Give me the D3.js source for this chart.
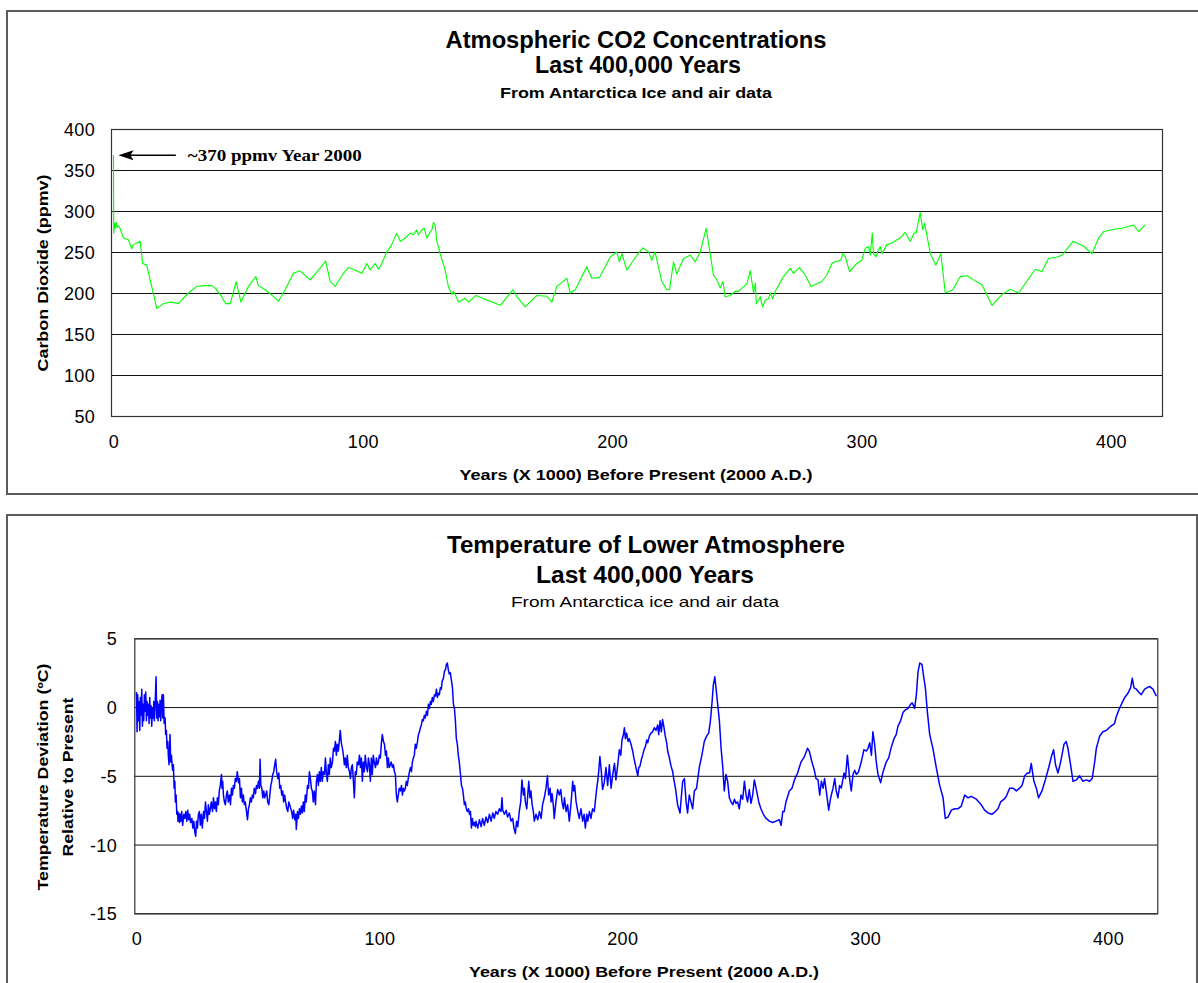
<!DOCTYPE html>
<html>
<head>
<meta charset="utf-8">
<script src="https://cdn.jsdelivr.net/npm/d3@7"></script>
<style>
  body { margin: 0; background: #fff; }
  text { font-family: "Liberation Sans", Arial, sans-serif; fill: #000; }
  text.serif { font-family: "Liberation Serif", "Times New Roman", serif; }
</style>
</head>
<body>
<div id="chart"></div>
<script>
// Vostok CO2: [years x 1000 before present, ppmv]
let co2Points = [
  [0,368],[0.1,273],[0.5,285],[0.8,279],[1.1,286],[1.5,280],[2.0,282],[2.6,279],[4.0,267],[6.0,265],
  [7.3,254],[8.0,259],[10.7,263],[11.7,236],[13.3,234],[17.4,181],[20.0,187],[22.7,189],[26.0,187],
  [30.1,200],[33.4,208],[36.1,209],[39.4,209],[40.8,206],[43.4,195.5],[45.0,187],[46.8,187],[49.2,214],
  [51.1,189],[54.1,208],[57.1,220],[58.1,209],[60.8,204],[64.2,195.5],[66.2,190],[68.8,204],[72.2,224],
  [74.8,227],[78.9,216],[82.2,228],[85.1,239],[86.9,214],[88.9,208],[92.2,224],[94.2,231],[96.2,229],
  [99.6,224],[101.6,236],[102.9,228],[104.9,236],[106.3,229],[107.6,236],[109.6,250],[111.6,259],
  [113.6,273],[115.0,263],[117.0,267],[119.0,273],[120.3,271],[121.6,277],[122.3,271],[123.7,277],
  [124.6,279],[125.7,267],[126.7,273],[127.7,277],[128.3,286],[129.0,283],[129.7,263],[131.0,248],
  [133.0,228],[134.3,208],[135.7,198],[136.4,202],[138.4,189],[141.0,193.5],[142.4,189],[145.4,197],
  [149.7,191.5],[155.1,185],[160.2,204],[161.8,195.5],[165.1,183],[169.8,197],[173.8,196],[175.8,189],
  [177.8,208],[181.1,216],[181.8,218],[183.2,200],[185.2,204],[189.8,232],[191.8,218],[194.9,219],
  [199.2,244],[201.9,250],[202.9,238],[203.9,248],[205.9,228],[209.2,243],[212.3,255],[214.6,250],
  [215.9,240],[217.2,250],[219.9,214],[221.9,204],[223.0,204],[224.6,238],[225.9,223],[228.6,242],
  [231.3,246],[233.3,238],[235.3,250],[237.7,279],[239.3,248],[240.6,222],[242.0,216],[243.3,206],
  [244.4,214],[245.3,195.5],[247.3,197],[249.3,202],[250.7,202],[252.0,206],[254.0,211],[255.4,227],
  [256.7,200],[257.4,212],[257.8,187],[258.7,191.5],[259.4,195.5],[260.3,183],[261.4,191.5],[262.7,193],
  [263.4,200],[264.4,193],[265.4,202],[268.7,220],[271.4,230],[272.7,224],[275.1,231],[277.4,222],
  [279.7,208],[284.1,214],[286.1,222],[288.1,236],[289.4,238],[291.7,240],[292.5,248],[293.5,244],
  [295.2,226],[298.1,236],[300.1,240],[301.5,254.5],[302.8,256.5],[303.5,246],[304.3,273],[304.8,248],
  [305.9,244],[306.4,250],[307.5,256.5],[308.2,248],[310.2,259],[312.2,261],[314.2,265],[315.5,267],
  [317.5,274],[319.5,263],[321.1,273],[321.9,273],[323.5,298],[324.6,277],[325.3,285],[327.6,248],
  [329.8,234],[331.8,248],[333.6,200],[336.6,204],[339.6,220],[342.3,221],[344.9,216],[348.3,210],
  [352.3,185],[356.3,198],[359.6,204.5],[363.0,200],[369.7,229],[372.3,226],[375.0,242],[378.4,244],
  [380.4,246],[384.8,263],[389.1,257],[392.4,248],[395.1,267],[397.1,275],[401.8,278],[404.4,279],
  [409.1,283],[411.1,275],[413.8,283]
];

// Vostok temperature deviation: [years x 1000 before present, deg C]
let tempPoints = [
  [0,1.1],[0.24,-1.8],[0.52,0.9],[0.79,-1.0],[1.07,0.4],[1.34,-1.7],[1.62,0.7],[1.89,-0.6],[2.17,1.3],
  [2.44,-1.4],[2.72,0.2],[2.99,-1.0],[3.26,0.9],[3.54,-0.3],[3.81,1.1],[4.09,-1.0],[4.36,0.4],[4.64,-0.6],
  [4.91,0.2],[5.19,-1.2],[5.46,0.7],[5.73,-0.8],[6.01,0.1],[6.28,-1.4],[6.56,-0.1],[6.83,-0.8],[7.11,0.4],
  [7.38,-1.0],[7.66,0.2],[8.07,2.2],[8.34,-0.8],[8.62,0.4],[8.89,-1.0],[9.17,0.2],[9.44,-0.7],[9.71,0.5],
  [9.99,-1.0],[10.26,0.2],[10.54,0.9],[10.81,-0.8],[11.09,0.9],
  [11.4,-1.2],[11.8,-0.8],[12.0,-2.0],[12.3,-1.7],[12.6,-3.0],[12.9,-2.5],[13.1,-3.5],[13.4,-4.2],[13.7,-2.7],
  [13.8,-2.0],[14.1,-4.0],[14.4,-3.5],[14.7,-4.3],[14.9,-4.6],[15.2,-4.2],[15.5,-5.9],[15.8,-5.4],[16.0,-6.9],
  [16.3,-6.4],[16.6,-7.8],[16.9,-7.6],[17.1,-8.3],[17.4,-7.7],[17.7,-8.4],[17.9,-7.8],[18.2,-8.3],[18.6,-7.6],
  [19.0,-8.6],[19.5,-7.8],[19.9,-8.1],[20.3,-7.6],[20.7,-8.3],[21.1,-7.5],[21.5,-8.2],[21.9,-7.8],[22.3,-8.4],
  [22.8,-8.1],[23.2,-8.8],[23.6,-8.3],[24.0,-9.1],[24.4,-9.4],[24.7,-8.3],[25.1,-8.8],[25.5,-7.8],[25.9,-7.6],
  [26.3,-8.6],[26.7,-7.8],[27.1,-8.8],[27.6,-7.6],[28.0,-8.1],[28.4,-6.9],[28.8,-7.6],[29.2,-8.3],[29.6,-7.1],
  [30.0,-7.8],[30.4,-7.4],[30.8,-6.9],[31.3,-7.6],[31.7,-6.6],[32.1,-7.4],[32.5,-6.9],[32.9,-7.6],[33.3,-6.6],
  [33.7,-7.1],[34.1,-6.1],[34.5,-5.7],[35.0,-4.9],[35.2,-5.9],[35.5,-5.4],[35.8,-6.4],[36.2,-6.9],[36.6,-7.1],
  [37.0,-6.4],[37.4,-6.1],[37.8,-6.9],[38.3,-6.4],[38.7,-7.1],[39.1,-5.9],[39.5,-6.4],[39.9,-5.7],[40.3,-5.9],
  [40.7,-5.2],[41.1,-5.4],[41.5,-4.7],[42.0,-5.5],[42.4,-5.2],[42.8,-6.6],[43.2,-5.9],[43.6,-6.9],[44.0,-6.4],
  [44.4,-7.1],[44.8,-6.9],[45.3,-7.6],[45.7,-8.2],[46.1,-7.4],[46.5,-7.1],[46.9,-6.6],[47.3,-6.9],[47.7,-6.4],
  [48.1,-6.6],[48.5,-5.9],[49.0,-6.3],[49.4,-5.7],[49.8,-5.9],[50.2,-5.4],[50.6,-5.9],[50.9,-3.8],[51.2,-5.7],
  [51.6,-5.9],[52.0,-6.6],[52.4,-6.1],[52.8,-6.6],[53.2,-6.4],[53.6,-6.1],[54.0,-6.9],[54.5,-7.1],[54.9,-6.4],
  [55.3,-5.7],[55.7,-5.4],[56.1,-4.9],[56.5,-4.7],[56.9,-4.2],[57.3,-3.8],[57.7,-4.7],[58.2,-5.2],[58.6,-4.8],
  [59.0,-5.9],[59.4,-5.7],[59.8,-6.4],[60.2,-6.1],[60.6,-6.9],[61.0,-6.4],[61.4,-6.9],[61.9,-7.4],[62.3,-7.6],
  [62.7,-6.9],[63.1,-7.1],[63.5,-7.4],[63.9,-7.6],[64.3,-8.1],[64.7,-7.5],[65.2,-8.2],[65.6,-7.8],[65.8,-8.9],
  [66.3,-7.6],[66.7,-8.1],[67.1,-7.4],[67.5,-7.8],[67.9,-7.2],[68.3,-7.7],[68.7,-6.9],[69.1,-7.6],[69.5,-6.4],
  [69.9,-6.9],[70.4,-5.7],[70.8,-5.9],[71.2,-4.7],[71.6,-5.2],[72.0,-5.9],[72.4,-6.1],[72.8,-6.9],[73.2,-6.1],
  [73.7,-7.1],[74.1,-5.4],[74.5,-4.9],[74.9,-5.7],[75.3,-4.7],[75.7,-5.4],[76.1,-4.4],[76.5,-5.4],[76.9,-4.7],
  [77.4,-4.9],[77.8,-3.7],[78.2,-4.9],[78.6,-5.4],[79.0,-4.2],[79.4,-4.9],[79.8,-3.7],[80.2,-4.4],[80.7,-4.0],
  [81.1,-3.0],[81.5,-3.2],[81.9,-2.5],[82.3,-3.5],[82.7,-2.7],[83.1,-3.2],[83.5,-2.5],[83.9,-1.7],[84.4,-2.7],
  [84.8,-3.0],[85.2,-3.5],[85.6,-4.2],[86.0,-3.7],[86.4,-4.4],[86.8,-3.5],[87.2,-4.4],[87.7,-4.7],[88.1,-5.2],
  [88.5,-4.4],[88.9,-4.2],[89.3,-5.4],[89.7,-6.6],[90.1,-4.7],[90.5,-4.9],[90.9,-4.0],[91.4,-4.2],[91.8,-3.5],
  [92.2,-4.4],[92.6,-3.7],[93.0,-5.4],[93.4,-4.0],[93.8,-4.7],[94.2,-3.5],[94.7,-4.4],[95.1,-4.7],[95.5,-3.7],
  [95.9,-4.2],[96.3,-5.4],[96.7,-3.7],[97.1,-4.9],[97.5,-3.5],[97.9,-4.0],[98.4,-4.4],[98.8,-3.7],[99.2,-4.2],
  [99.6,-4.0],[100.0,-3.5],[100.4,-3.7],[100.8,-2.7],[101.2,-2.0],[101.7,-2.5],[102.1,-2.7],[102.5,-3.5],
  [102.9,-3.2],[103.3,-4.4],[103.7,-3.7],[104.1,-4.4],[104.5,-4.2],[104.9,-4.0],[105.4,-4.4],[105.8,-4.2],
  [106.2,-4.7],[106.6,-4.9],[107.0,-6.4],[107.4,-6.9],[107.8,-6.4],[108.2,-5.9],[108.7,-6.1],[109.1,-5.7],
  [109.5,-6.4],[109.9,-5.9],[110.3,-6.1],[110.7,-5.9],[111.1,-5.4],[111.5,-5.7],[111.9,-5.2],[112.4,-4.7],
  [112.8,-4.4],[113.2,-4.7],[113.6,-4.0],[114.0,-3.7],[114.4,-3.5],[114.8,-2.7],[115.2,-3.0],[115.7,-2.5],
  [116.1,-2.0],[116.5,-1.8],[116.9,-1.5],[117.3,-1.3],[117.7,-0.9],[118.1,-1.0],[118.5,-0.6],[118.9,-0.8],
  [119.4,-0.3],[119.8,-0.6],[120.2,0.2],[120.6,-0.1],[121.0,0.4],[121.4,0.2],[121.8,0.7],[122.2,0.4],
  [122.7,0.9],[123.1,0.8],[123.5,1.3],[123.9,0.7],[124.3,1.0],[124.7,0.9],[125.1,1.4],[125.5,1.3],
  [125.9,1.9],[126.4,2.1],[126.8,2.6],[127.2,2.7],[127.6,3.1],[128.0,3.2],[128.4,2.7],[128.8,2.4],
  [129.2,2.5],[129.7,1.9],[130.1,1.4],[130.5,0.2],[130.9,-0.1],[131.3,-1.0],[131.7,-2.3],[132.1,-2.7],
  [132.5,-3.5],[132.9,-4.0],[133.4,-4.9],[133.8,-5.7],[134.2,-5.9],[134.6,-6.4],[135.0,-7.1],[135.4,-6.9],
  [135.8,-7.4],[136.2,-7.6],[136.7,-7.4],[137.1,-7.8],[137.5,-7.6],[137.9,-8.8],[138.3,-8.1],[138.7,-8.6],
  [139.1,-8.4],[139.5,-8.7],
  [139.8,-8.3],[140.5,-8.8],[141.2,-8.2],[141.9,-8.7],[142.5,-8.1],[143.2,-8.6],[143.9,-8.0],[144.6,-8.4],
  [145.3,-7.8],[146.0,-8.3],[146.7,-7.7],[147.3,-8.1],[148.0,-7.6],[148.7,-7.8],[149.4,-7.4],[150.1,-7.6],
  [150.5,-6.6],[150.8,-7.5],[151.5,-7.8],[152.2,-7.5],[152.8,-8.0],[153.5,-7.7],[154.2,-8.3],[154.9,-8.1],
  [155.4,-8.8],[156.0,-9.2],[156.5,-8.3],[157.0,-8.7],[157.6,-7.6],[158.2,-6.9],[158.7,-5.3],[159.3,-6.4],
  [159.7,-5.9],[160.1,-6.9],[160.7,-7.4],[161.1,-6.4],[161.5,-5.4],[162.0,-6.6],[162.4,-6.1],[162.9,-7.1],
  [163.4,-7.6],[163.8,-8.3],[164.5,-7.8],[165.2,-8.2],[165.9,-7.6],[166.6,-8.1],[167.2,-7.1],[167.9,-6.6],
  [168.6,-5.9],[169.2,-5.0],[169.7,-6.4],[170.3,-5.9],[170.7,-6.9],[171.1,-6.3],[171.6,-7.1],[172.0,-8.1],
  [172.7,-6.9],[173.4,-6.0],[174.1,-6.4],[174.7,-6.0],[175.2,-6.9],[175.8,-7.4],[176.2,-6.6],[176.9,-7.6],
  [177.5,-7.1],[178.2,-8.3],[178.6,-7.6],[179.2,-6.4],[179.6,-5.4],[180.0,-6.1],[180.4,-5.7],[181.0,-6.9],
  [181.7,-7.6],[182.3,-8.1],[183.0,-7.4],[183.7,-8.3],[184.3,-7.8],[184.8,-8.8],[185.4,-7.8],[185.8,-8.3],
  [186.5,-7.6],[187.1,-8.1],[187.8,-7.4],[188.5,-7.6],[188.9,-6.9],[189.5,-5.9],[189.9,-5.4],[190.3,-4.7],
  [190.8,-3.6],[191.4,-4.7],[191.9,-6.0],[192.6,-5.5],[193.3,-4.4],[194.0,-5.7],[194.7,-4.2],[195.4,-5.9],
  [196.1,-4.9],[196.8,-4.1],[197.4,-5.3],[198.1,-4.3],[198.8,-3.1],[199.4,-3.5],[199.9,-2.4],[200.5,-2.0],
  [200.9,-1.5],[201.3,-2.3],[201.8,-1.9],[202.4,-2.5],[202.9,-2.3],[203.6,-2.7],[204.3,-3.2],[204.8,-3.7],
  [205.4,-4.2],[205.9,-4.6],[206.4,-5.0],[206.8,-4.4],[207.3,-4.3],[207.9,-3.8],[208.4,-3.5],[209.0,-3.1],
  [209.5,-2.9],[210.1,-2.4],[210.5,-2.6],[211.2,-2.1],[211.8,-1.9],[212.5,-1.8],[213.2,-1.5],[213.9,-1.7],
  [214.6,-1.3],[215.0,-2.0],[215.6,-1.0],[216.1,-1.8],[216.6,-0.9],[217.2,-1.5],[217.7,-2.1],[218.3,-2.6],
  [218.7,-3.2],[219.4,-3.7],[220.1,-4.3],[220.8,-4.7],[221.0,-5.0],[221.9,-5.9],[222.8,-7.1],[223.8,-7.7],
  [224.3,-6.6],[224.9,-5.4],[225.6,-5.2],[226.3,-6.9],[226.9,-7.7],[227.6,-6.4],[228.3,-6.9],[229.0,-7.4],
  [229.7,-6.1],[230.6,-5.9],[231.7,-4.4],[232.8,-3.5],[233.8,-2.5],[234.8,-2.1],[235.6,-1.9],[236.3,-1.0],
  [237.0,0.4],[237.5,1.6],[238.1,2.2],[238.6,1.4],[239.3,0.2],[240.0,-1.0],[240.7,-3.0],[241.4,-4.4],
  [242.0,-6.1],[242.7,-4.9],[243.4,-5.4],[244.1,-6.6],[244.8,-6.9],[245.5,-7.1],[246.2,-6.7],[246.8,-7.0],
  [247.5,-6.9],[248.2,-7.4],[248.9,-6.4],[249.6,-6.7],[250.3,-5.4],[251.0,-6.4],[251.6,-6.9],[252.3,-6.0],
  [253.0,-7.0],[253.7,-6.4],[254.4,-5.3],[255.1,-5.9],[256.2,-6.9],[257.1,-7.4],[258.1,-7.8],[259.2,-8.1],
  [260.6,-8.3],[261.9,-8.4],[263.3,-8.3],[264.7,-8.2],[265.4,-8.6],[266.1,-7.6],[266.7,-7.6],[267.4,-6.9],
  [268.8,-6.1],[269.9,-5.9],[270.9,-5.3],[272.2,-4.8],[273.6,-4.0],[275.0,-3.6],[276.3,-3.0],[277.0,-3.2],
  [278.1,-4.0],[279.1,-4.6],[279.8,-5.2],
  [280.6,-5.3],[281.3,-6.4],[282.0,-5.4],[282.7,-5.9],[283.3,-5.2],[284.0,-6.1],[285.0,-7.5],[285.8,-6.6],
  [286.8,-5.9],[287.5,-5.2],[288.1,-6.1],[288.8,-6.6],[289.5,-5.7],[290.2,-5.9],[291.3,-4.8],[291.9,-5.2],
  [292.7,-3.5],[293.2,-4.4],[293.6,-5.2],[294.3,-6.1],[295.0,-4.9],[295.7,-4.6],[296.4,-4.9],[297.3,-4.7],
  [298.4,-4.0],[299.5,-3.1],[300.5,-3.2],[301.2,-3.0],[301.9,-2.6],[302.6,-3.5],[303.2,-1.8],[303.9,-2.7],
  [304.6,-4.0],[305.3,-4.9],[306.4,-5.5],[307.4,-4.7],[308.7,-4.0],[309.7,-3.7],[310.8,-2.9],[311.9,-2.3],
  [312.8,-2.0],[313.5,-1.4],[314.6,-1.0],[315.6,-0.4],[316.6,-0.2],[317.7,-0.1],[318.7,0.2],[319.4,0.3],
  [320.4,-0.1],[321.1,0.9],[321.8,2.6],[322.5,3.2],[323.4,3.1],[324.2,2.1],[324.8,1.4],[325.6,-0.3],
  [326.6,-2.0],[327.9,-3.0],[329.3,-4.4],[330.7,-5.7],[332.1,-6.6],[333.0,-8.1],[334.1,-8.0],[335.5,-7.5],
  [336.9,-7.4],[338.2,-7.4],[339.6,-7.2],[341.0,-6.4],[342.4,-6.6],[343.7,-6.5],[345.8,-6.7],[347.8,-7.1],
  [349.2,-7.5],[350.6,-7.7],[352.2,-7.8],[353.6,-7.6],[354.7,-7.4],[355.8,-6.9],[357.2,-6.7],[358.1,-6.5],
  [359.5,-5.9],[360.9,-5.9],[362.3,-6.1],[363.6,-5.9],[364.6,-5.7],[365.7,-5.0],[366.8,-4.8],[367.7,-4.8],
  [368.4,-4.1],[369.5,-5.4],[370.5,-5.9],[371.4,-6.6],[372.8,-6.1],[374.2,-5.3],[375.6,-4.4],[376.7,-3.6],
  [377.6,-3.1],[378.4,-4.2],[379.4,-4.8],[380.5,-4.0],[381.9,-2.7],[382.8,-2.5],[383.5,-3.0],[384.6,-4.2],
  [385.6,-5.4],[387.0,-5.3],[388.3,-5.0],[389.7,-5.4],[391.1,-5.3],[392.4,-5.4],[393.5,-5.2],[394.5,-4.0],
  [395.2,-3.0],[396.6,-2.1],[397.9,-1.8],[399.3,-1.7],[401.1,-1.4],[402.7,-1.2],[403.4,-0.7],[404.5,-0.2],
  [405.5,0.2],[406.9,0.7],[408.2,1.0],[409.3,1.4],[410.0,2.1],[410.7,1.4],[411.7,1.3],[412.6,1.1],
  [413.7,0.9],[415.1,1.3],[417.1,1.5],[418.5,1.3],[419.9,0.8]
];

let xTicks = [0, 100, 200, 300, 400];
let co2Ticks = [50, 100, 150, 200, 250, 300, 350, 400];
let tempTicks = [-15, -10, -5, 0, 5];

// Setting up my svg dimensions
let svgWidth = 1198;
let svgHeight = 983;

let svg = d3.select("#chart")
  .append("svg")
  .attr("width", svgWidth)
  .attr("height", svgHeight);

// centred text, optionally rotated and squeezed to a given length
function addText(str, x, y, size, weight, len, rotate) {
  let t = svg.append("text")
    .attr("x", x)
    .attr("y", y)
    .attr("text-anchor", "middle")
    .attr("font-size", size)
    .attr("font-weight", weight)
    .text(str);
  if (len) t.attr("textLength", len).attr("lengthAdjust", "spacingAndGlyphs");
  if (rotate) t.attr("transform", `rotate(-90, ${x}, ${y})`);
  return t;
}

function drawPanel(p) {
  // outer box
  svg.append("rect")
    .attr("x", p.frame[0]).attr("y", p.frame[1])
    .attr("width", p.frame[2]).attr("height", p.frame[3])
    .attr("fill", "none")
    .attr("stroke", "#5c5c5c")
    .attr("stroke-width", 2);

  let x = d3.scaleLinear().domain(p.xDomain).range([p.left, p.right]);
  let y = d3.scaleLinear().domain(p.yDomain).range([p.bottom, p.top]);

  // gridlines
  let grid = svg.append("g")
    .attr("transform", `translate(${p.left}, 0)`)
    .call(d3.axisLeft(y).tickValues(p.yTicks).tickSize(-(p.right - p.left)).tickFormat(""));
  grid.select(".domain").remove();
  grid.selectAll("line").attr("stroke", "#111");

  // plot frame
  svg.append("rect")
    .attr("x", p.left + 0.5).attr("y", p.top + 0.5)
    .attr("width", p.right - p.left).attr("height", p.bottom - p.top)
    .attr("fill", "none")
    .attr("stroke", "#333")
    .attr("stroke-width", 1.2);

  // y tick labels (plain hyphen for negatives, like the original)
  let yAxis = svg.append("g")
    .attr("transform", `translate(${p.yLabelX}, 0)`)
    .call(d3.axisLeft(y).tickValues(p.yTicks).tickSize(0).tickPadding(0).tickFormat(d => String(d)));
  yAxis.select(".domain").remove();
  yAxis.attr("font-family", null).attr("font-size", 18);
  yAxis.selectAll("text").attr("dy", "0.36em").attr("letter-spacing", "0.3px");

  // x tick labels
  let xAxis = svg.append("g")
    .attr("transform", `translate(0, ${p.xLabelY})`)
    .call(d3.axisBottom(x).tickValues(xTicks).tickSize(0).tickFormat(d => String(d)));
  xAxis.select(".domain").remove();
  xAxis.attr("font-family", null).attr("font-size", 18);
  xAxis.selectAll("text").attr("y", 0).attr("dy", 0).attr("letter-spacing", "0.3px");

  // data line
  let line = d3.line()
    .x(d => x(d[0]))
    .y(d => y(d[1]));

  svg.append("path")
    .datum(p.data)
    .attr("d", line)
    .attr("fill", "none")
    .attr("stroke", p.color)
    .attr("stroke-width", p.lineWidth)
    .attr("stroke-linejoin", "round");

  return { x: x, y: y };
}

// ---- CO2 panel ----
let co2 = drawPanel({
  frame: [7, 11, 1210, 483],
  left: 111, right: 1162, top: 129, bottom: 416,
  xDomain: [-1, 420.5], yDomain: [50, 400],
  yTicks: co2Ticks, yLabelX: 95, xLabelY: 448,
  data: co2Points, color: "#00ff00", lineWidth: 1.1
});

addText("Atmospheric CO2 Concentrations", 636, 48, 23, "bold", 381);
addText("Last 400,000 Years", 638, 73, 23, "bold", 206);
addText("From Antarctica Ice and air data", 636, 98, 14, "bold", 272);
addText("Years (X 1000) Before Present (2000 A.D.)", 636, 480, 14, "bold", 353);
addText("Carbon Dioxide (ppmv)", 48, 273, 15, "bold", 197, true);

// annotation arrow pointing at the year 2000 value
let arrowY = co2.y(368);
svg.append("line")
  .attr("x1", co2.x(25)).attr("x2", co2.x(6))
  .attr("y1", arrowY).attr("y2", arrowY)
  .attr("stroke", "#000").attr("stroke-width", 1.6);
svg.append("path")
  .attr("d", `M${co2.x(2)},${arrowY} l15,-5 l-3,5 l3,5 z`)
  .attr("fill", "#000");
svg.append("text")
  .attr("class", "serif")
  .attr("x", co2.x(29.8))
  .attr("y", arrowY + 5.5)
  .attr("font-size", 17)
  .attr("font-weight", "bold")
  .attr("textLength", 174)
  .attr("lengthAdjust", "spacingAndGlyphs")
  .text("~370 ppmv Year 2000");

// ---- Temperature panel ----
drawPanel({
  frame: [7, 515, 1190, 490],
  left: 134.3, right: 1157.3, top: 638.3, bottom: 913.3,
  xDomain: [-0.9, 420.3], yDomain: [-15, 5],
  yTicks: tempTicks, yLabelX: 117, xLabelY: 945,
  data: tempPoints, color: "#0000ff", lineWidth: 1.5
});

addText("Temperature of Lower Atmosphere", 646, 553, 24, "bold", 398);
addText("Last 400,000 Years", 645, 583, 24, "bold", 218);
addText("From Antarctica ice and air data", 645, 607, 15, "normal", 268);
addText("Years (X 1000) Before Present (2000 A.D.)", 644, 977, 14, "bold", 350);
addText("Temperature Deviation (ºC)", 48, 777, 15, "bold", 227, true);
addText("Relative to Present", 73, 777, 15, "bold", 159, true);
</script>
</body>
</html>
